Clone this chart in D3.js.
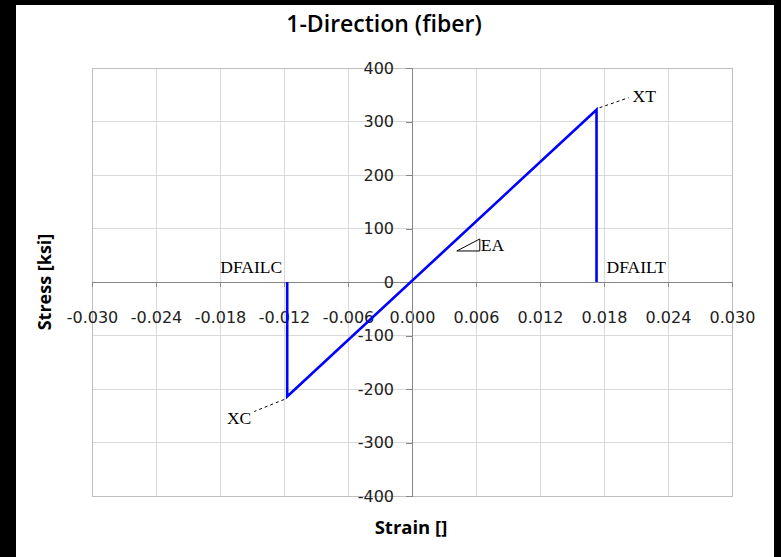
<!DOCTYPE html>
<html><head><meta charset="utf-8">
<script src="https://cdn.jsdelivr.net/npm/d3@7"></script>
<style>body{margin:0;background:#000;}svg{display:block;}</style>
</head><body>
<script>
// Data
const strain = [-0.0117, -0.0117, 0.0173, 0.0173];
const stress = [0, -214, 322, 0];
const xTicks = [-0.030, -0.024, -0.018, -0.012, -0.006, 0.000, 0.006, 0.012, 0.018, 0.024, 0.030];
const yTicks = [-400, -300, -200, -100, 0, 100, 200, 300, 400];
const labels = ["DFAILC", "DFAILT", "XT", "XC", "EA"];

const W = 781, H = 557;
const svg = d3.select("body").append("svg").attr("width", W).attr("height", H);
svg.append("rect").attr("x", 0).attr("y", 0).attr("width", W).attr("height", H).attr("fill", "#000");
svg.append("rect").attr("x", 16).attr("y", 5).attr("width", 758).attr("height", 552).attr("fill", "#fff");

const L = 92, R = 732, T = 68, B = 496;
const x = d3.scaleLinear().domain([-0.03, 0.03]).range([L, R]);
const y = d3.scaleLinear().domain([-400, 400]).range([B, T]);

// gridlines
const g = svg.append("g");
g.selectAll(".vg").data(xTicks).join("line")
  .attr("x1", d => x(d)).attr("x2", d => x(d)).attr("y1", T).attr("y2", B)
  .attr("stroke", "#d9d9d9").attr("stroke-width", 1).attr("shape-rendering", "crispEdges");
g.selectAll(".hg").data(yTicks).join("line")
  .attr("y1", d => y(d)).attr("y2", d => y(d)).attr("x1", L).attr("x2", R)
  .attr("stroke", "#d9d9d9").attr("stroke-width", 1).attr("shape-rendering", "crispEdges");
g.append("rect").attr("x", L).attr("y", T).attr("width", R - L).attr("height", B - T)
  .attr("fill", "none").attr("stroke", "#bfbfbf").attr("shape-rendering", "crispEdges");

const tickFont = "'DejaVu Sans', Verdana, sans-serif";
const hy = s => s.replace("\u2212", "-");
// x axis at y=0
const xAx = svg.append("g").attr("transform", `translate(0,${y(0)})`)
  .call(d3.axisBottom(x).tickValues(xTicks).tickSize(5).tickPadding(25).tickFormat(d => hy(d3.format(".3f")(d))));
xAx.select(".domain").attr("stroke", "#868686");
xAx.selectAll(".tick line").attr("stroke", "#868686");
xAx.selectAll("text").attr("font-family", tickFont).attr("font-size", 16).attr("fill", "#222");
xAx.attr("shape-rendering", "crispEdges");

// y axis at x=0
const yAx = svg.append("g").attr("transform", `translate(${x(0)},0)`)
  .call(d3.axisLeft(y).tickValues(yTicks).tickSize(6).tickPadding(12).tickFormat(d => hy(d3.format("d")(d))));
yAx.select(".domain").attr("stroke", "#868686");
yAx.selectAll(".tick line").attr("stroke", "#868686");
yAx.selectAll("text").attr("font-family", tickFont).attr("font-size", 16).attr("fill", "#222");
yAx.attr("shape-rendering", "crispEdges");

// data line
const pts = strain.map((s, i) => [s, stress[i]]);
svg.append("path").datum(pts)
  .attr("d", d3.line().x(d => x(d[0])).y(d => y(d[1])))
  .attr("fill", "none").attr("stroke", "#0000ff").attr("stroke-width", 2.6).attr("stroke-linejoin", "miter");

// annotations
const serif = "'Liberation Serif', 'Times New Roman', serif";
const ann = svg.append("g").attr("font-family", serif).attr("font-size", 17.5).attr("fill", "#000");
ann.append("text").attr("x", x(strain[0]) - 5).attr("y", y(0) - 9).attr("text-anchor", "end").text(labels[0]);
ann.append("text").attr("x", x(strain[3]) + 10).attr("y", y(0) - 9).text(labels[1]);
// XT
const xt = [x(strain[2]), y(stress[2])];
svg.append("line").attr("x1", xt[0] + 3).attr("y1", xt[1] - 2).attr("x2", xt[0] + 32).attr("y2", xt[1] - 12)
  .attr("stroke", "#000").attr("stroke-width", 1).attr("stroke-dasharray", "3,3");
ann.append("text").attr("x", xt[0] + 36).attr("y", xt[1] - 8).text(labels[2]);
// XC
const xc = [x(strain[1]), y(stress[1])];
svg.append("line").attr("x1", xc[0] - 3).attr("y1", xc[1] + 3).attr("x2", xc[0] - 33).attr("y2", xc[1] + 15)
  .attr("stroke", "#000").attr("stroke-width", 1).attr("stroke-dasharray", "3,3");
ann.append("text").attr("x", xc[0] - 36).attr("y", xc[1] + 28).attr("text-anchor", "end").text(labels[3]);
// EA triangle
const ex = x(0.0042), ey = y(58);
svg.append("path").attr("d", `M${ex},${ey} L${ex + 23},${ey} L${ex + 23},${ey - 12} Z`)
  .attr("fill", "none").attr("stroke", "#000").attr("stroke-width", 1);
ann.append("text").attr("x", ex + 24).attr("y", ey).text(labels[4]);

// titles
const bold = "'Open Sans', Lato, sans-serif";
svg.append("text").attr("x", 384).attr("y", 32).attr("text-anchor", "middle")
  .attr("font-family", bold).attr("font-weight", 600).attr("font-size", 23).text("1-Direction (fiber)");
svg.append("text").attr("x", 411).attr("y", 534).attr("text-anchor", "middle")
  .attr("font-family", bold).attr("font-weight", "bold").attr("font-size", 18.5).text("Strain []");
svg.append("text").attr("transform", "translate(51,282) rotate(-90)").attr("text-anchor", "middle")
  .attr("font-family", bold).attr("font-weight", "bold").attr("font-size", 18).text("Stress [ksi]");
</script>
</body></html>
